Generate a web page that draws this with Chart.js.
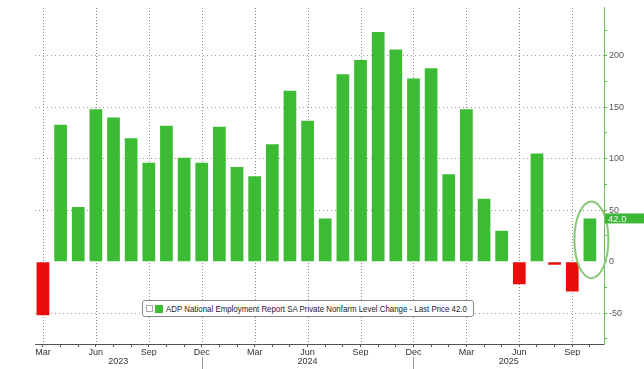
<!DOCTYPE html>
<html>
<head>
<meta charset="utf-8">
<script src="https://cdn.jsdelivr.net/npm/chart.js@4.4.1/dist/chart.umd.min.js"></script>
<style>
    html, body { margin: 0; padding: 0; background: #fff; }
    #wrap { position: relative; width: 644px; height: 369px; }
    #legend {
        position: absolute; left: 142px; top: 300px; width: 323px; height: 15px;
        padding: 0 4px 0 3px; border: 1px solid #8a8a8a; border-radius: 3px;
        background: #fff; display: flex; align-items: center; white-space: nowrap; overflow: visible;
        font: 9.5px "Liberation Sans", sans-serif;
        color: #222;
    }
    #legend .ico { width: 5px; height: 5px; border: 1px solid #aaa; margin-right: 2px; flex: none; }
    #legend .sw { width: 8px; height: 8px; background: #3cbc34; margin-right: 3px; flex: none; }
    #legendText { display: inline-block; transform: scaleX(0.83); transform-origin: left center; }
</style>
</head>
<body>
<div id="wrap">
    <canvas id="adpChart" width="644" height="369"></canvas>
    <div id="legend"><span class="ico"></span><span class="sw"></span><span id="legendText"></span></div>
</div>
<script>
// 資料：2023年3月 ~ 2025年10月
const months = [
    'Mar', 'Apr', 'May', 'Jun', 'Jul', 'Aug', 'Sep', 'Oct', 'Nov', 'Dec',
    'Jan', 'Feb', 'Mar', 'Apr', 'May', 'Jun', 'Jul', 'Aug', 'Sep', 'Oct', 'Nov', 'Dec',
    'Jan', 'Feb', 'Mar', 'Apr', 'May', 'Jun', 'Jul', 'Aug', 'Sep', 'Oct'
];
const years = ['2023', '2024', '2025'];
const values = [
    -52, 133, 53, 148, 140, 120, 96, 132, 101, 96,
    131, 92, 83, 114, 166, 137, 42, 182, 196, 223, 206, 178,
    188, 85, 148, 61, 30, -22, 105, -3, -29, 42
];
const yTicks = [-75, -50, -25, 0, 25, 50, 75, 100, 125, 150, 175, 200, 225];
const labeledMonths = ['Mar', 'Jun', 'Sep', 'Dec'];
const seriesName = 'ADP National Employment Report SA Private Nonfarm Level Change';
const lastPrice = 42.0;

const GREEN = '#3cbc34';
const RED = '#e80d0b';
const FONT = '"Liberation Sans", sans-serif';
const X_MIN = -0.45, X_MAX = 31.8;

document.addEventListener('DOMContentLoaded', function () {
    document.getElementById('legendText').textContent =
        seriesName + ' - Last Price ' + lastPrice.toFixed(1);
    initChart();
});

/**
 * 年份位置：每年的區間中點（以12月為分界）
 */
function yearCenters() {
    const bounds = [X_MIN];
    months.forEach((m, i) => { if (m === 'Dec') bounds.push(i); });
    bounds.push(X_MAX);
    return years.map((y, k) => (bounds[k] + bounds[k + 1]) / 2);
}

function initChart() {
    const ctx = document.getElementById('adpChart').getContext('2d');

    // 季度月份的垂直虛線（畫在柱子下方）
    const quarterGrid = {
        id: 'quarterGrid',
        beforeDatasetsDraw(chart) {
            const c = chart.ctx;
            const xs = chart.scales.x;
            const area = chart.chartArea;
            c.save();
            c.fillStyle = '#8c8c8c';
            months.forEach((m, i) => {
                if (!labeledMonths.includes(m)) return;
                const px = Math.round(xs.getPixelForValue(i));
                for (let y = Math.ceil(area.top); y < area.bottom; y += 3) {
                    c.fillRect(px, y, 1, 1);
                }
            });
            c.restore();
        }
    };

    // 標註：最後一根柱子的橢圓、右側價格標籤、年份分隔線
    const annotate = {
        id: 'annotate',
        afterDatasetsDraw(chart) {
            const c = chart.ctx;
            const meta = chart.getDatasetMeta(0);
            const bar = meta.data[meta.data.length - 1];
            const xs = chart.scales.x, ys = chart.scales.y;
            const area = chart.chartArea;

            // 年份分隔線
            c.save();
            c.strokeStyle = '#999';
            c.lineWidth = 1;
            months.forEach((m, i) => {
                if (m === 'Dec' && i < months.length - 1) {
                    const px = Math.round(xs.getPixelForValue(i)) + 0.5;
                    c.beginPath();
                    c.moveTo(px, area.bottom + 13);
                    c.lineTo(px, chart.height);
                    c.stroke();
                }
            });

            // 橢圓
            const top = bar.y, base = bar.base;
            c.strokeStyle = '#86c873';
            c.lineWidth = 2;
            c.beginPath();
            c.ellipse(bar.x + 1.5, (top + base) / 2, 17, (base - top) / 2 + 17, 0, 0, Math.PI * 2);
            c.stroke();

            // 最新價格標籤
            const py = ys.getPixelForValue(lastPrice);
            c.fillStyle = '#3cb836';
            c.fillRect(area.right + 1, py - 5, chart.width - area.right, 10);
            c.fillStyle = '#f4f4f4';
            c.font = '9.5px ' + FONT;
            c.textBaseline = 'middle';
            c.fillText(lastPrice.toFixed(1), area.right + 4, py + 0.5);
            c.restore();
        }
    };

    new Chart(ctx, {
        type: 'bar',
        data: {
            datasets: [{
                label: seriesName,
                data: values.map((v, i) => ({ x: i, y: v })),
                backgroundColor: values.map(v => v < 0 ? RED : GREEN),
                borderWidth: 0,
                barPercentage: 0.72,
                categoryPercentage: 1
            }]
        },
        options: {
            responsive: false,
            animation: false,
            layout: { padding: { left: 35, top: 7, right: 0, bottom: 0 } },
            plugins: {
                legend: { display: false },
                tooltip: { enabled: false }
            },
            scales: {
                x: {
                    type: 'linear',
                    position: 'bottom',
                    weight: 0,
                    offset: false,
                    min: X_MIN,
                    max: X_MAX,
                    afterBuildTicks: s => { s.ticks = months.map((m, i) => ({ value: i })); },
                    afterFit: s => { s.height = 12; },
                    ticks: {
                        autoSkip: false,
                        maxRotation: 0,
                        padding: 0,
                        color: '#333',
                        font: { size: 9, family: FONT },
                        callback: v => labeledMonths.includes(months[v]) ? months[v] : ''
                    },
                    grid: {
                        offset: false,
                        drawOnChartArea: false,
                        tickColor: '#555',
                        tickLength: 3
                    },
                    border: { color: '#555', width: 1 }
                },
                yr: {
                    type: 'linear',
                    axis: 'x',
                    position: 'bottom',
                    weight: 1,
                    offset: false,
                    min: X_MIN,
                    max: X_MAX,
                    afterBuildTicks: s => { s.ticks = yearCenters().map(v => ({ value: v })); },
                    afterFit: s => { s.height = 13; },
                    ticks: {
                        autoSkip: false,
                        maxRotation: 0,
                        padding: 0,
                        color: '#333',
                        font: { size: 9, family: FONT },
                        callback: (v, i) => years[i]
                    },
                    grid: { display: false, drawTicks: false, offset: false },
                    border: { display: false }
                },
                y: {
                    position: 'right',
                    min: -80,
                    max: 247,
                    afterBuildTicks: s => { s.ticks = yTicks.map(v => ({ value: v })); },
                    afterFit: s => { s.width = 40; },
                    ticks: {
                        padding: 2,
                        color: '#555',
                        font: { size: 9, family: FONT },
                        callback: v => v % 50 === 0 ? String(v) : ''
                    },
                    grid: {
                        color: c => (c.tick && c.tick.value % 50 === 0 && c.tick.value !== 0) ? '#9a9a9a' : 'rgba(0,0,0,0)',
                        tickColor: '#4cae3c',
                        tickLength: 3
                    },
                    border: { color: '#6cbf5a', width: 1, dash: [1, 3] }
                }
            }
        },
        plugins: [quarterGrid, annotate]
    });
}
</script>
</body>
</html>
